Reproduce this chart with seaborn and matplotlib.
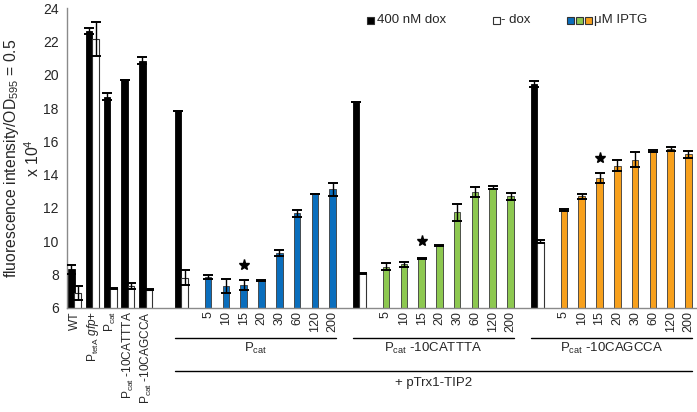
import numpy as np
import pandas as pd
import matplotlib
matplotlib.use('Agg')
import matplotlib.pyplot as plt
import matplotlib.transforms as mtransforms
from matplotlib.patches import Rectangle
from matplotlib.lines import Line2D
import seaborn as sns

# ---------------- data ----------------
left_labels = ['WT', r'P$_{\mathrm{tetA}}$ $gfp$+', r'P$_{\mathrm{cat}}$',
               r'P$_{\mathrm{cat}}$ -10CATTTA', r'P$_{\mathrm{cat}}$ -10CAGCCA']
dox400_left = [8.3, 22.65, 18.68, 19.67, 20.85]
dox400_left_err = [0.28, 0.18, 0.2, 0.0, 0.22]
nodox_left = [6.85, 22.15, 7.15, 7.29, 7.06]
nodox_left_err = [0.42, 1.0, 0.05, 0.2, 0.03]

promoters = [r'P$_{\mathrm{cat}}$', r'P$_{\mathrm{cat}}$ -10CATTTA', r'P$_{\mathrm{cat}}$ -10CAGCCA']
dox400_grp = [17.8, 18.35, 19.44]
dox400_grp_err = [0.0, 0.0, 0.2]
nodox_grp = [7.79, 8.06, 9.97]
nodox_grp_err = [0.46, 0.02, 0.1]

iptg_labels = ['5', '10', '15', '20', '30', '60', '120', '200']
blue_vals = [7.85, 7.3, 7.38, 7.62, 9.27, 11.67, 12.82, 13.1]
blue_err = [0.12, 0.42, 0.3, 0.03, 0.18, 0.2, 0.02, 0.42]
green_vals = [8.45, 8.6, 8.93, 9.72, 11.73, 12.95, 13.2, 12.68]
green_err = [0.22, 0.15, 0.03, 0.03, 0.5, 0.3, 0.1, 0.2]
orange_vals = [11.85, 12.7, 13.8, 14.53, 14.9, 15.43, 15.55, 15.22]
orange_err = [0.05, 0.15, 0.3, 0.33, 0.45, 0.05, 0.12, 0.22]

star_values = [8.55, 9.98, 14.97]   # star marker above the 15 uM bar
colors = {'blue': '#0A6EBD', 'green': '#8DC850', 'orange': '#F7A01C'}

# ---------------- layout helpers ----------------
BW = 0.37      # bar width (slot units)
OFF_W = 0.365  # white bar offset from black
OFF_C = 0.69   # coloured bar offset from black
left_slots = [0, 1, 2, 3, 4]
pair_slots = [6, 16, 26]
iptg_slots = [[p + 1 + i for i in range(8)] for p in pair_slots]

sns.set_style('white')
plt.rcParams['font.family'] = ['Liberation Sans', 'DejaVu Sans']
plt.rcParams['mathtext.fontset'] = 'custom'
plt.rcParams['mathtext.rm'] = 'Liberation Sans'
plt.rcParams['mathtext.it'] = 'Liberation Sans:italic'
plt.rcParams['mathtext.bf'] = 'Liberation Sans:bold'

fig = plt.figure(figsize=(6.97, 4.12), dpi=100)
ax = fig.add_axes([67 / 697, (412 - 307.5) / 412, 630 / 697, 299.2 / 412])

black_df = pd.DataFrame({'x': left_slots + pair_slots,
                         'y': dox400_left + dox400_grp})
white_df = pd.DataFrame({'x': [s + OFF_W for s in left_slots + pair_slots],
                         'y': nodox_left + nodox_grp})
col_rows = []
for g, (name, vals) in enumerate(zip(['blue', 'green', 'orange'],
                                     [blue_vals, green_vals, orange_vals])):
    for s, v in zip(iptg_slots[g], vals):
        col_rows.append({'x': s + OFF_C, 'y': v, 'grp': name})
col_df = pd.DataFrame(col_rows)

sns.barplot(data=black_df, x='x', y='y', native_scale=True, width=BW,
            color='black', edgecolor='black', linewidth=0.6,
            errorbar=None, ax=ax, saturation=1)
sns.barplot(data=white_df, x='x', y='y', native_scale=True, width=BW,
            color='white', edgecolor='#333333', linewidth=0.8,
            errorbar=None, ax=ax, saturation=1)
sns.barplot(data=col_df, x='x', y='y', hue='grp', palette=colors,
            native_scale=True, width=BW, dodge=False, legend=False,
            edgecolor='#3a3a3a', linewidth=0.6, errorbar=None, ax=ax,
            saturation=1)

# error bars
ekw = dict(fmt='none', ecolor='black', elinewidth=1.0, capsize=3.6, capthick=1.4, zorder=5)
ax.errorbar(black_df['x'], black_df['y'], yerr=dox400_left_err + dox400_grp_err, **ekw)
ax.errorbar(white_df['x'], white_df['y'], yerr=nodox_left_err + nodox_grp_err, **ekw)
ax.errorbar(col_df['x'], col_df['y'], yerr=blue_err + green_err + orange_err, **ekw)

# stars
star_x = [iptg_slots[g][2] + OFF_C for g in range(3)]
ax.plot(star_x, star_values, linestyle='none', marker='*', color='black',
        markersize=8, zorder=6)

# axes styling
ax.set_ylim(6, 24)
ax.set_xlim(-0.24, 35.17)
ax.set_yticks(range(6, 25, 2))
ax.set_xticks([])
ax.set_xlabel('')
ax.set_ylabel('')
for sp in ['top', 'right']:
    ax.spines[sp].set_visible(False)
for sp in ['left', 'bottom']:
    ax.spines[sp].set_color('#8a8a8a')
    ax.spines[sp].set_linewidth(1.0)
ax.tick_params(axis='y', direction='out', length=4, width=1, color='#8a8a8a',
               labelsize=10, pad=2)

trans = mtransforms.blended_transform_factory(ax.transData, ax.transAxes)

# category labels
for s, lab in zip(left_slots, left_labels):
    ax.text(s + 0.2, -0.012, lab, rotation=90, ha='center', va='top',
            fontsize=8.6, transform=trans)
for g in range(3):
    for s, lab in zip(iptg_slots[g], iptg_labels):
        ax.text(s + OFF_C, -0.012, lab, rotation=90, ha='center', va='top',
                fontsize=9, transform=trans)

# brackets
for g in range(3):
    x0 = pair_slots[g] - BW / 2
    x1 = iptg_slots[g][-1] + OFF_C + BW / 2
    ax.add_line(Line2D([x0, x1], [-0.102, -0.102], color='black', lw=1.0,
                       transform=trans, clip_on=False))
    ax.text((x0 + x1) / 2, -0.138, promoters[g], ha='center', va='center',
            fontsize=9.5, transform=trans)
x0 = pair_slots[0] - BW / 2
x1 = iptg_slots[2][-1] + OFF_C + BW / 2
ax.add_line(Line2D([x0, x1], [-0.212, -0.212], color='black', lw=1.0,
                   transform=trans, clip_on=False))
ax.text((x0 + x1) / 2, -0.252, '+ pTrx1-TIP2', ha='center', va='center',
        fontsize=9.5, transform=trans)

# y label
fig.text(22 / 697, 1 - 158 / 412,
         'fluorescence intensity/OD$_{595}$ = 0.5\nx 10$^{4}$',
         rotation=90, ha='center', va='center', multialignment='center',
         fontsize=11.3, linespacing=1.2)

# legend (manual)
def px2fig(x, y):
    return x / 697, 1 - y / 412

ly = 20
sq = 7
def square(xl, fc):
    fx, fy = px2fig(xl, ly + sq / 2)
    fig.add_artist(Rectangle((fx, fy), sq / 697, sq / 412, facecolor=fc,
                             edgecolor='#333333', linewidth=0.8,
                             transform=fig.transFigure))

square(367, 'black')
fig.text(*px2fig(377, ly), '400 nM dox', ha='left', va='center', fontsize=9.5)
square(493, 'white')
fig.text(*px2fig(501, ly), '- dox', ha='left', va='center', fontsize=9.5)
square(567, colors['blue'])
square(576, colors['green'])
square(585, colors['orange'])
fig.text(*px2fig(594, ly), 'μM IPTG', ha='left', va='center', fontsize=9.5)

fig.savefig('out.png', dpi=100)
